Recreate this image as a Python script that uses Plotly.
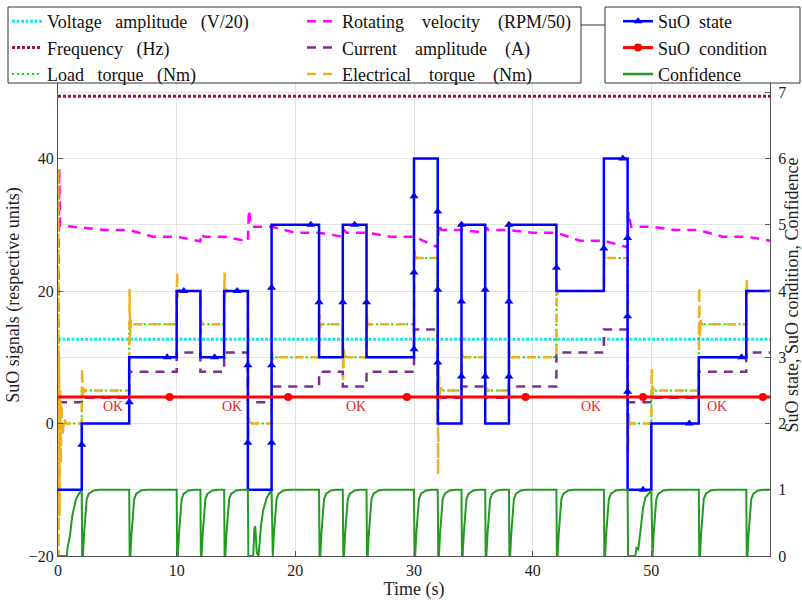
import plotly.graph_objects as go

# ---------------- data ----------------
t_edges = list(range(0, 62, 2))  # segment boundaries 0..60 s

# SuO state per 2 s segment (right axis)
suo_state = [1, 2, 2, 3, 3, 4, 3, 4, 1, 5, 5, 3, 5, 3, 3, 6, 2, 5, 2, 5, 5, 4, 4, 6, 1, 2, 2, 3, 3, 4]
# Load torque (Nm) per segment
load_torque = [0, 5, 5, 15, 15, 20, 15, 20, 0, 10, 10, 15, 10, 15, 15, 25, 5, 10, 5, 10, 10, 20, 20, 25, 0, 5, 5, 15, 15, 20]
# Rotating velocity (RPM/50) per segment
rot_velocity = [29.6, 29.2, 29.2, 28.2, 28.2, 27.5, 28.2, 27.5, 29.7, 28.8, 28.8, 28.2, 28.8, 28.2, 28.2, 26.6,
                29.2, 28.8, 29.2, 28.8, 28.8, 27.6, 27.6, 26.6, 29.7, 29.2, 29.2, 28.2, 28.2, 27.6]
# Current amplitude (A) per segment
current_amp = [3.2, 3.9, 3.9, 7.8, 7.8, 10.7, 7.8, 10.7, 3.2, 5.6, 5.6, 7.8, 5.6, 7.8, 7.8, 14.2,
               3.9, 5.6, 3.9, 5.6, 5.6, 10.7, 10.7, 14.2, 3.2, 3.9, 3.9, 7.8, 7.8, 10.7]
voltage_amp = 12.7      # V/20
frequency = 49.4        # Hz
suo_condition = 2.4     # right axis level of the "OK" condition

# electrical torque: start-up oscillation and peak value at each load step
elec_start_t = [0, 0.02, 0.05, 0.09, 0.13, 0.18, 0.24, 0.30, 0.38, 0.50, 0.70]
elec_start_v = [0, 38.5, -20, 10, -14, 5, -6, 3, -2, 0.8, 0]
elec_peak = {2: 8.3, 6: 20.3, 10: 22.8, 12: 13.5, 14: 22.8, 16: -2.5, 18: 11.0, 22: 16.5, 24: 6.6,
             26: 16.5, 30: 26.5, 32: -7.7, 34: 11.0, 36: 3.5, 38: 11.0, 42: 21.5, 46: 26.0,
             48: -4.5, 50: 8.3, 54: 20.5, 58: 21.7}
# rotating velocity: start-up and spikes at load drops
vel_start_t = [0, 0.10, 0.18]
vel_start_v = [0, 38.5, 29.9]
vel_peak = {12: 28.7, 16: 32.2, 24: 29.3, 32: 30.2, 36: 29.6, 48: 31.9}

# confidence (right axis) : start-up, standard recovery after a state change, special cases
conf_start_t = [0, 0.75, 0.80, 1.0, 1.2, 1.5, 1.8, 1.98]
conf_start_v = [0, 0, 0.12, 0.30, 0.60, 0.85, 0.95, 0.97]
conf_rise_dt = [0.04, 0.10, 0.20, 0.30, 0.42, 0.60, 1.00, 1.50]
conf_rise_v = [0.0, 0.0, 0.35, 0.65, 0.86, 0.94, 0.99, 1.0]
conf_special = {
    16: ([0.04, 0.45, 0.55, 0.62, 0.75, 0.90, 1.10, 1.30, 1.60, 1.90],
         [0.0, 0.0, 0.42, 0.45, 0.05, 0.0, 0.45, 0.70, 0.88, 0.97]),
    48: ([0.04, 0.65, 0.75, 0.90, 1.10, 1.30, 1.50, 1.80, 1.95],
         [0.0, 0.0, 0.12, 0.10, 0.40, 0.72, 0.88, 0.96, 0.98]),
}

# SuO state markers (time, state)
state_mk_t = [2.0, 6.0, 9.2, 10.6, 13.2, 15.1, 16.0, 16.0, 18.0, 18.0, 18.0, 21.3, 22.0, 24.0, 25.0, 26.0,
              30.0, 30.0, 30.0, 32.0, 32.0, 32.0, 34.0, 34.0, 34.0, 36.0, 36.0, 38.0, 38.0, 38.0,
              42.0, 46.0, 47.6, 48.0, 48.0, 48.0, 49.3, 53.2, 57.6]
state_mk_v = [1.68, 2.32, 3.0, 4.0, 3.0, 4.0, 2.88, 1.71, 1.71, 2.88, 4.05, 5.0, 3.83, 3.83, 5.0, 3.83,
              3.12, 4.28, 5.43, 5.2, 4.02, 2.92, 5.0, 3.84, 2.71, 4.02, 2.71, 5.0, 3.84, 2.71,
              4.35, 4.64, 6.0, 4.8, 3.62, 2.48, 1.0, 2.0, 3.0]
cond_mk_t = [9.4, 19.4, 29.4, 39.4, 49.3, 59.4]
ok_t = [4.6, 14.7, 25.1, 44.9, 55.5]
ok_level = 2.26

x_ticks = [0, 10, 20, 30, 40, 50]
y_left_ticks = [-20, 0, 20, 40]
y_right_ticks = [0, 1, 2, 3, 4, 5, 6, 7]

# ---------------- build series ----------------
def step(vals):
    xs, ys = [], []
    for i, v in enumerate(vals):
        xs += [t_edges[i], t_edges[i + 1]]
        ys += [v, v]
    return xs, ys


def with_spikes(vals, start_t, start_v, peaks, shape):
    xs, ys = list(start_t), list(start_v)
    for i, v in enumerate(vals):
        t0 = t_edges[i]
        if i > 0 and t0 in peaks:
            p = peaks[t0]
            xs.append(t0); ys.append(vals[i - 1])
            for dt, frac in shape:
                xs.append(t0 + dt); ys.append(v + frac * (p - v))
        xs.append(t_edges[i + 1]); ys.append(v)
    return xs, ys


elec_shape = [(0.03, 1.0), (0.09, -0.35), (0.16, 0.12), (0.25, -0.04), (0.35, 0.0)]
vel_shape = [(0.08, 1.0), (0.30, 0.0)]
elec_x, elec_y = with_spikes(load_torque, elec_start_t, elec_start_v, elec_peak, elec_shape)
vel_x, vel_y = with_spikes(rot_velocity, vel_start_t, vel_start_v, vel_peak, vel_shape)
load_x, load_y = step(load_torque)
cur_x, cur_y = step(current_amp)
state_x, state_y = step(suo_state)

conf_x, conf_y = list(conf_start_t), list(conf_start_v)
for i in range(1, len(suo_state)):
    t0 = t_edges[i]
    if suo_state[i] != suo_state[i - 1]:
        conf_x.append(t0); conf_y.append(conf_y[-1])
        dts, vs = conf_special.get(t0, (conf_rise_dt, conf_rise_v))
        for dt, v in zip(dts, vs):
            conf_x.append(t0 + dt); conf_y.append(v)
conf_x.append(60); conf_y.append(1.0)

# ---------------- figure ----------------
SERIF = "Liberation Serif"
fig = go.Figure()


def add_line(x, y, name, color, width, dash, legend, yaxis="y", showlegend=True, mode="lines", marker=None):
    fig.add_trace(go.Scatter(x=x, y=y, mode=mode, name=name, yaxis=yaxis, legend=legend,
                             showlegend=showlegend, hoverinfo="skip",
                             line=dict(color=color, width=width, dash=dash),
                             marker=marker if marker else dict()))


sp = "\u00a0\u00a0 "
sp2 = "\u00a0\u00a0\u00a0 "
sp3 = "\u00a0 "
add_line([0, 60], [voltage_amp, voltage_amp], "Voltage" + sp + "amplitude" + sp + "(V/20)", "#22E2EA", 3, "3px,1.5px", "legend")
add_line([0, 60], [frequency, frequency], "Frequency" + sp + "(Hz)", "#A2142F", 3, "3px,2px", "legend")
add_line(load_x, load_y, "Load" + sp + "torque" + sp + "(Nm)", "#00E000", 2, "2px,3px", "legend")
add_line(vel_x, vel_y, "Rotating" + sp2 + "velocity" + sp2 + "(RPM/50)", "#FF00FF", 2.5, "9px,7px", "legend2")
add_line(cur_x, cur_y, "Current" + sp2 + "amplitude" + sp2 + "(A)", "#7E2F8E", 2.5, "9px,7px", "legend2")
add_line(elec_x, elec_y, "Electrical" + sp2 + "torque" + sp2 + "(Nm)", "#EDB120", 2.5, "9px,7px", "legend2")

# right-axis series
add_line(state_x, state_y, "SuO state", "#0000FF", 2.5, "solid", "legend3", yaxis="y2", showlegend=False)
add_line(state_mk_t, state_mk_v, "SuO state", "#0000FF", 2.5, "solid", "legend3", yaxis="y2",
         showlegend=False, mode="markers", marker=dict(symbol="triangle-up", size=8, color="#0000FF"))
add_line([0, 60], [suo_condition, suo_condition], "SuO condition", "#FF0000", 3, "solid", "legend3",
         yaxis="y2", showlegend=False)
add_line(cond_mk_t, [suo_condition] * len(cond_mk_t), "SuO condition", "#FF0000", 3, "solid", "legend3",
         yaxis="y2", showlegend=False, mode="markers", marker=dict(symbol="circle", size=8, color="#FF0000"))
add_line(conf_x, conf_y, "Confidence", "#239B23", 2, "solid", "legend3", yaxis="y2", showlegend=False)

# legend entries for right-axis series
add_line([None], [None], "SuO" + sp3 + "state", "#0000FF", 2.5, "solid", "legend3", yaxis="y2",
         mode="lines+markers", marker=dict(symbol="triangle-up", size=8, color="#0000FF"))
add_line([None], [None], "SuO" + sp3 + "condition", "#FF0000", 3, "solid", "legend3", yaxis="y2",
         mode="lines+markers", marker=dict(symbol="circle", size=8, color="#FF0000"))
add_line([None], [None], "Confidence", "#239B23", 2.5, "solid", "legend3", yaxis="y2")

for t in ok_t:
    fig.add_annotation(x=t, y=ok_level, xref="x", yref="y2", text="OK", showarrow=False,
                       font=dict(family=SERIF, size=14, color="#E8262B"))

PW, PH, L, T = 712, 522, 58, 34


def px(xp):
    return (xp - L) / PW


def py(yp):
    return (T + PH - yp) / PH


box = dict(type="rect", xref="paper", yref="paper", layer="above", fillcolor="white",
           line=dict(color="#333333", width=1))
fig.add_shape(**box, x0=px(8), x1=px(581), y0=py(83), y1=py(7))
fig.add_shape(**box, x0=px(605), x1=px(800), y0=py(83), y1=py(7))
fig.add_shape(type="line", xref="paper", yref="paper", layer="above", x0=px(581), x1=px(605),
              y0=py(25), y1=py(25), line=dict(color="#333333", width=1))

leg_common = dict(yanchor="top", xanchor="left", bgcolor="rgba(0,0,0,0)", borderwidth=0,
                  font=dict(family=SERIF, size=18, color="#111"), tracegroupgap=0)
axis_common = dict(showline=True, linecolor="#555", linewidth=1, ticks="inside", ticklen=5,
                   tickcolor="#555", zeroline=False, automargin=False,
                   tickfont=dict(family=SERIF, size=16, color="#222"))

fig.update_layout(
    width=802, height=600,
    margin=dict(l=L, r=802 - L - PW, t=T, b=600 - T - PH, autoexpand=False),
    paper_bgcolor="white", plot_bgcolor="white",
    font=dict(family=SERIF, size=16, color="#222"),
    hovermode=False,
    xaxis=dict(range=[0, 60], tickvals=x_ticks, showgrid=True, gridcolor="#e2e2e2", **axis_common,
               title=dict(text="Time (s)", standoff=4, font=dict(family=SERIF, size=18, color="#222"))),
    yaxis=dict(range=[-20, -20 + PH / 6.625], tickvals=y_left_ticks, showgrid=False, **axis_common,
               title=dict(text="SuO signals (respective units)", standoff=4,
                          font=dict(family=SERIF, size=18, color="#222"))),
    yaxis2=dict(range=[0, PH / 66.25], tickvals=y_right_ticks, overlaying="y", side="right",
                showgrid=True, gridcolor="#e2e2e2", ticklabelstandoff=4, **axis_common,
                title=dict(text="SuO state, SuO condition, Confidence", standoff=2,
                           font=dict(family=SERIF, size=18, color="#222"))),
    legend=dict(x=px(7), y=py(3), **leg_common),
    legend2=dict(x=px(302), y=py(3), **leg_common),
    legend3=dict(x=px(618), y=py(3), **leg_common),
)

fig.write_html("out.html", config={"displayModeBar": False},
               post_script="document.body.style.margin='0';")
